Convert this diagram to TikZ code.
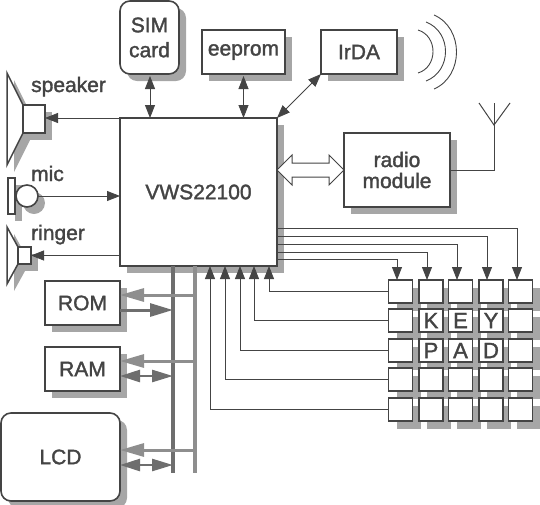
\documentclass[tikz,border=0pt]{standalone}
\usepackage{fontspec}
\setmainfont{Liberation Sans}[FakeBold=1.6]
\usetikzlibrary{arrows.meta,shadows,calc}
\definecolor{ink}{HTML}{444444}
\definecolor{shade}{HTML}{A6A6A6}
\definecolor{busdark}{HTML}{6E6E6E}
\definecolor{buslight}{HTML}{8E8E8E}
\tikzset{
  shd/.style={drop shadow={shadow xshift=7pt,shadow yshift=-7pt,fill=shade,opacity=1}},
  box/.style={draw=ink,line width=1.6pt,fill=white,inner sep=0pt,outer sep=0pt,shd,text=ink,font=\fontsize{21}{25}\selectfont,align=center},
  rbox/.style={box,rounded corners=10pt},
  keybox/.style={draw=ink,line width=1.8pt,fill=white,inner sep=0pt,outer sep=0pt,minimum width=24pt,minimum height=23pt,
    drop shadow={shadow xshift=8pt,shadow yshift=-8pt,fill=shade,opacity=1}},
  keyletter/.style={text=ink,font=\fontsize{22}{22}\selectfont,inner sep=0pt},
  lbl/.style={text=ink,font=\fontsize{21}{25}\selectfont,inner sep=0pt,anchor=base west},
  thin sig/.style={draw=ink,line width=0.8pt},
  sig/.style={thin sig,-{Triangle[length=13pt,width=10pt]}},
  sigb/.style={thin sig,{Triangle[length=13pt,width=10pt]}-{Triangle[length=13pt,width=10pt]}},
  busa/.style={draw=busdark,line width=3.6pt},
  busb/.style={draw=buslight,line width=3.2pt},
  rd/.style={draw=buslight,fill=none,line width=3pt,-{Triangle[length=24pt,width=13pt,fill=buslight]}},
  wr/.style={draw=busdark,line width=3pt,-{Triangle[length=23pt,width=13pt,fill=busdark]}},
  rw/.style={draw=busdark,line width=2.6pt,{Triangle[length=20pt,width=12pt]}-{Triangle[length=21pt,width=12pt]}},
  outline/.style={draw=ink,line width=1.5pt,fill=white},
  outlineS/.style={outline,drop shadow={shadow xshift=7pt,shadow yshift=-7pt,fill=shade,opacity=1}},
}
\begin{document}
\begin{tikzpicture}[x=1pt,y=-1pt]
\useasboundingbox (0,0) rectangle (540,504);

% blocks
\node[box,minimum width=157pt,minimum height=148pt] (chip) at (198.5,192) {VWS22100};
\node[rbox,minimum width=59pt,minimum height=73pt] (sim) at (149.5,37.5) {SIM\\card};
\node[box,minimum width=83pt,minimum height=44pt] (eeprom) at (243.5,52) {eeprom};
\node[box,minimum width=76pt,minimum height=44pt] (irda) at (359,52) {IrDA};
\node[box,minimum width=106pt,minimum height=74pt,font=\fontsize{21}{21}\selectfont] (radio) at (397,170) {radio\\module};
\node[box,minimum width=75pt,minimum height=44pt] (rom) at (82.5,303) {ROM};
\node[box,minimum width=75pt,minimum height=44pt] (ram) at (82.5,369) {RAM};
\node[rbox,minimum width=119pt,minimum height=88pt] (lcd) at (60.5,457) {LCD};

% speaker
\path[outlineS] (7,73) -- (23,105) -- (23,133) -- (7,165) -- cycle;
\node[box,minimum width=22pt,minimum height=28pt] (spk) at (34,119) {};
\node[lbl] (spklbl) at (31,92) {speaker};
% mic
\node[box,minimum width=7pt,minimum height=36pt] (micbar) at (11.5,196) {};
\node[box,circle,minimum size=22pt] (mic) at (27,196) {};
\node[lbl] (miclbl) at (31,181) {mic};
% ringer
\path[outlineS] (7,227) -- (18,247) -- (18,264) -- (7,284) -- cycle;
\node[box,minimum width=13pt,minimum height=17pt] (rng) at (24.5,255.5) {};
\node[lbl] (rnglbl) at (31,240) {ringer};

% waves
\draw[ink,line width=0.9pt] (418,30) .. controls (438,36) and (438,67) .. (418,73);
\draw[ink,line width=0.9pt] (426,22) .. controls (452,32) and (452,71) .. (426,81);
\draw[ink,line width=0.9pt] (434,15) .. controls (464,28) and (464,76) .. (434,89);

% antenna
\coordinate (antfoot) at (494,125);
\coordinate (antl) at (479,103);
\coordinate (antm) at (494,103);
\coordinate (antr) at (510,103);
\draw[ink,line width=1pt] (radio.east) -| (antfoot);
\draw[ink,line width=1pt] (antl) -- (antfoot) -- (antr);
\draw[ink,line width=1pt] (antm) -- (antfoot);

% fat arrow
\coordinate (fatL) at (277,170);
\coordinate (fatR) at (344,170);
\draw[ink,line width=1pt,fill=white,line join=miter]
  (fatL) -- ++(15,-15) -- ++(0,8) -- ++(37,0) -- ++(0,-8) -- (fatR)
  -- ++(-15,15) -- ++(0,-8) -- ++(-37,0) -- ++(0,8) -- cycle;

% top connectors
\draw[sigb] (sim.south -| 150,0) ++(0,2) -- (chip.north -| 150,0);
\draw[sigb] (eeprom.south) ++(0,2) -- (chip.north -| eeprom.south);
\draw[sigb] (irda.south west) -- (chip.north east);
\draw[sig] (chip.north west) -- (spk.east |- chip.north west);
\draw[sig] (mic.east) -- (chip.west |- mic.east);
\draw[sig] (chip.west |- rng.east) -- (rng.east);

% keypad
\foreach \r/\yy in {1/291.5,2/320.5,3/350.5,4/379.5,5/409.5}
  \foreach \c/\xx in {1/400.5,2/431,3/460.5,4/491,5/520.5}
    \node[keybox] (k\r\c) at (\xx,\yy) {};
\node[keyletter] (lK) at (k22) {K};
\node[keyletter] (lE) at (k23) {E};
\node[keyletter] (lY) at (k24) {Y};
\node[keyletter] (lP) at (k32) {P};
\node[keyletter] (lA) at (k33) {A};
\node[keyletter] (lD) at (k34) {D};

% chip to keypad
\coordinate (o1) at (chip.east |- 0,259);
\coordinate (o2) at (chip.east |- 0,252);
\coordinate (o3) at (chip.east |- 0,244);
\coordinate (o4) at (chip.east |- 0,236);
\coordinate (o5) at (chip.east |- 0,228);
\draw[sig] (o1) -| ([xshift=-3.5pt]k11.north);
\draw[sig] (o2) -| ([xshift=-4pt]k12.north);
\draw[sig] (o3) -| ([xshift=-3.5pt]k13.north);
\draw[sig] (o4) -| ([xshift=-4pt]k14.north);
\draw[sig] (o5) -| ([xshift=-3.5pt]k15.north);

% keypad to chip
\coordinate (i1) at (269,266);
\coordinate (i2) at (254,266);
\coordinate (i3) at (240,266);
\coordinate (i4) at (225,266);
\coordinate (i5) at (210,266);
\draw[sig] (k11.west) -| (i1);
\draw[sig] (k21.west) -| (i2);
\draw[sig] (k31.west) -| (i3);
\draw[sig] (k41.west) -| (i4);
\draw[sig] (k51.west) -| (i5);

% buses
\coordinate (busA) at (173,473);
\coordinate (busB) at (195,473);
\draw[busa] (chip.south -| busA) -- (busA);
\draw[busb] (chip.south -| busB) -- (busB);
\draw[rd] (busB |- 0,295) -- (rom.east |- 0,295);
\draw[wr] (rom.east |- 0,310) -- (busA |- 0,310);
\draw[rd] (busB |- 0,361) -- (ram.east |- 0,361);
\draw[rw] (ram.east |- 0,376) -- (busA |- 0,376);
\draw[rd] (busB |- 0,450) -- (lcd.east |- 0,450);
\draw[rw] (lcd.east |- 0,465) -- (busA |- 0,465);
\end{tikzpicture}
\end{document}
